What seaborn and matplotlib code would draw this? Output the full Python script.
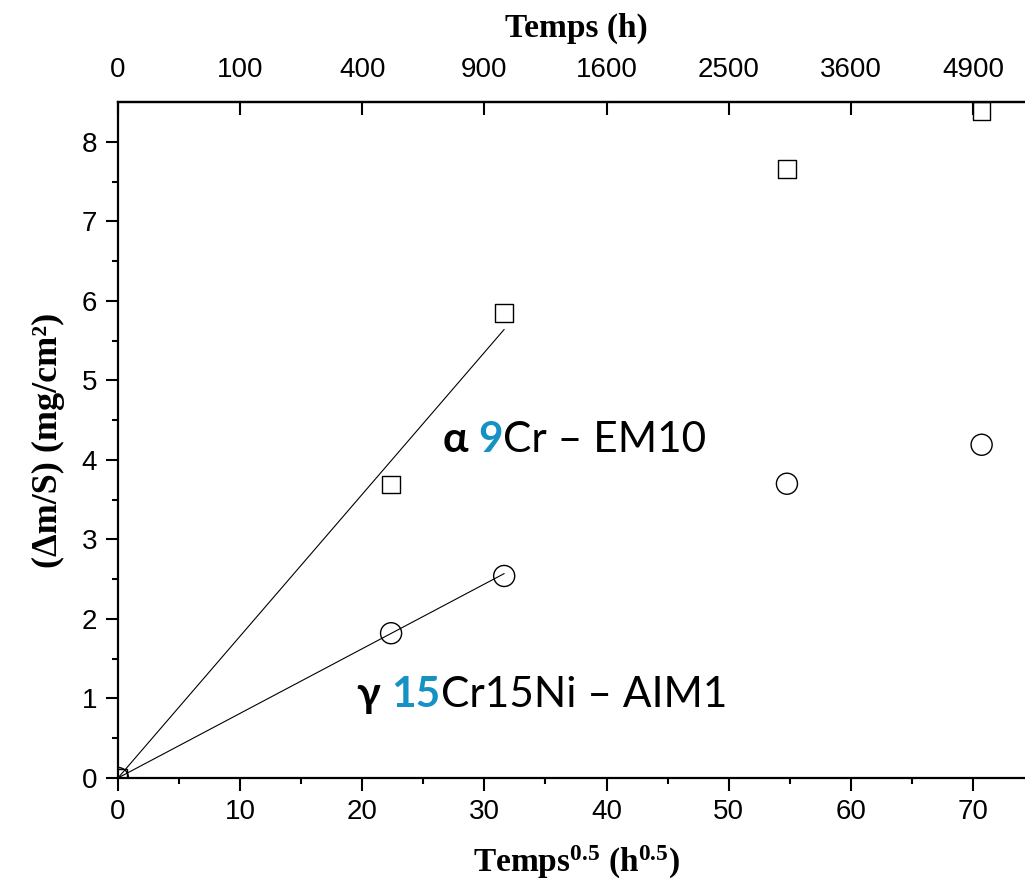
import numpy as np
import pandas as pd
import matplotlib.pyplot as plt
import seaborn as sns

# racine du temps (h^0.5) et prise de masse (mg/cm2)
sqrt_t = [0, 22.36, 31.62, 54.77, 70.71]
gain_alpha = [0, 3.69, 5.85, 7.66, 8.39]   # 9Cr - EM10
gain_gamma = [0, 1.82, 2.54, 3.70, 4.19]   # 15Cr15Ni - AIM1

# droites d'ajustement sur les premiers points
fit_x = [0, 31.62]
fit_alpha = [0, 5.64]
fit_gamma = [0, 2.57]

top_ticks_h = [0, 100, 400, 900, 1600, 2500, 3600, 4900]

sns.set_style("ticks")
plt.rcParams['font.family'] = ['Liberation Sans', 'DejaVu Sans']
plt.rcParams['text.color'] = 'black'
plt.rcParams['axes.labelcolor'] = 'black'
plt.rcParams['axes.edgecolor'] = 'black'
plt.rcParams['xtick.color'] = 'black'
plt.rcParams['ytick.color'] = 'black'
plt.rcParams['mathtext.fontset'] = 'custom'
plt.rcParams['mathtext.rm'] = 'Liberation Serif:bold'
plt.rcParams['mathtext.it'] = 'Liberation Serif:bold'
plt.rcParams['mathtext.bf'] = 'Liberation Serif:bold'

df = pd.DataFrame({'x': sqrt_t, 'alpha': gain_alpha, 'gamma': gain_gamma})
fits = pd.DataFrame({'x': fit_x, 'alpha': fit_alpha, 'gamma': fit_gamma})

fig = plt.figure(figsize=(10.25, 8.93), dpi=100)
ax = fig.add_axes([0.1151, 0.1288, 0.8937, 0.757])

sns.lineplot(data=fits, x='x', y='alpha', color='black', lw=0.8, ax=ax)
sns.lineplot(data=fits, x='x', y='gamma', color='black', lw=0.8, ax=ax)
sns.scatterplot(data=df, x='x', y='alpha', marker='s', s=160, facecolor='none',
                edgecolor='black', linewidth=1.0, ax=ax, zorder=3)
sns.scatterplot(data=df, x='x', y='gamma', marker='o', s=230, facecolor='none',
                edgecolor='black', linewidth=1.0, ax=ax, zorder=3)

ax.set_xlim(0, 75)
ax.set_ylim(0, 8.5)
ax.set_xticks(np.arange(0, 80, 10))
ax.set_xticks(np.arange(5, 80, 10), minor=True)
ax.set_yticks(np.arange(0, 9, 1))
ax.set_yticks(np.arange(0.5, 8.5, 1), minor=True)
ax.tick_params(which='major', direction='out', length=9, width=1.5, labelsize=20, pad=6)
ax.tick_params(which='minor', direction='out', length=4.5, width=1.5)
for s in ['left', 'bottom', 'top']:
    ax.spines[s].set_linewidth(1.6)
ax.spines['right'].set_visible(False)

ax.set_xlabel(r'Temps$^{0.5}$ (h$^{0.5}$)', fontsize=24, fontweight='bold',
              family='Liberation Serif', labelpad=14)
ax.set_ylabel('(Δm/S) (mg/cm²)', fontsize=26, fontweight='bold',
              family='Liberation Serif', labelpad=12)

# axe du haut : temps en heures
top = ax.twiny()
top.set_xlim(ax.get_xlim())
top.set_xticks(np.sqrt(top_ticks_h))
top.set_xticklabels([str(h) for h in top_ticks_h])
top.tick_params(axis='x', direction='in', length=9, width=1.5, labelsize=20, pad=14)
top.set_xlabel('Temps (h)', fontsize=24, fontweight='bold', family='Liberation Serif', labelpad=14)
for s in ['left', 'bottom', 'right']:
    top.spines[s].set_visible(False)
top.spines['top'].set_linewidth(1.6)

# etiquettes des nuances
def label(x, y, parts):
    t = ax.text(x, y, parts[0][0], color=parts[0][1], fontweight=parts[0][2],
                fontsize=30.5, family=['Lato', 'DejaVu Sans'])
    for txt, col, fw in parts[1:]:
        t = ax.annotate(txt, xy=(1, 0), xycoords=t, va='bottom', color=col,
                        fontweight=fw, fontsize=30.5, family=['Lato', 'DejaVu Sans'])

label(26.6, 4.1, [('α ', 'black', 'bold'), ('9', '#1591c4', 'bold'),
                  ('Cr – EM10', 'black', 'normal')])
label(19.6, 0.89, [('γ ', 'black', 'bold'), ('15', '#1591c4', 'bold'),
                   ('Cr15Ni – AIM1', 'black', 'normal')])

fig.savefig('out.png', dpi=100)
